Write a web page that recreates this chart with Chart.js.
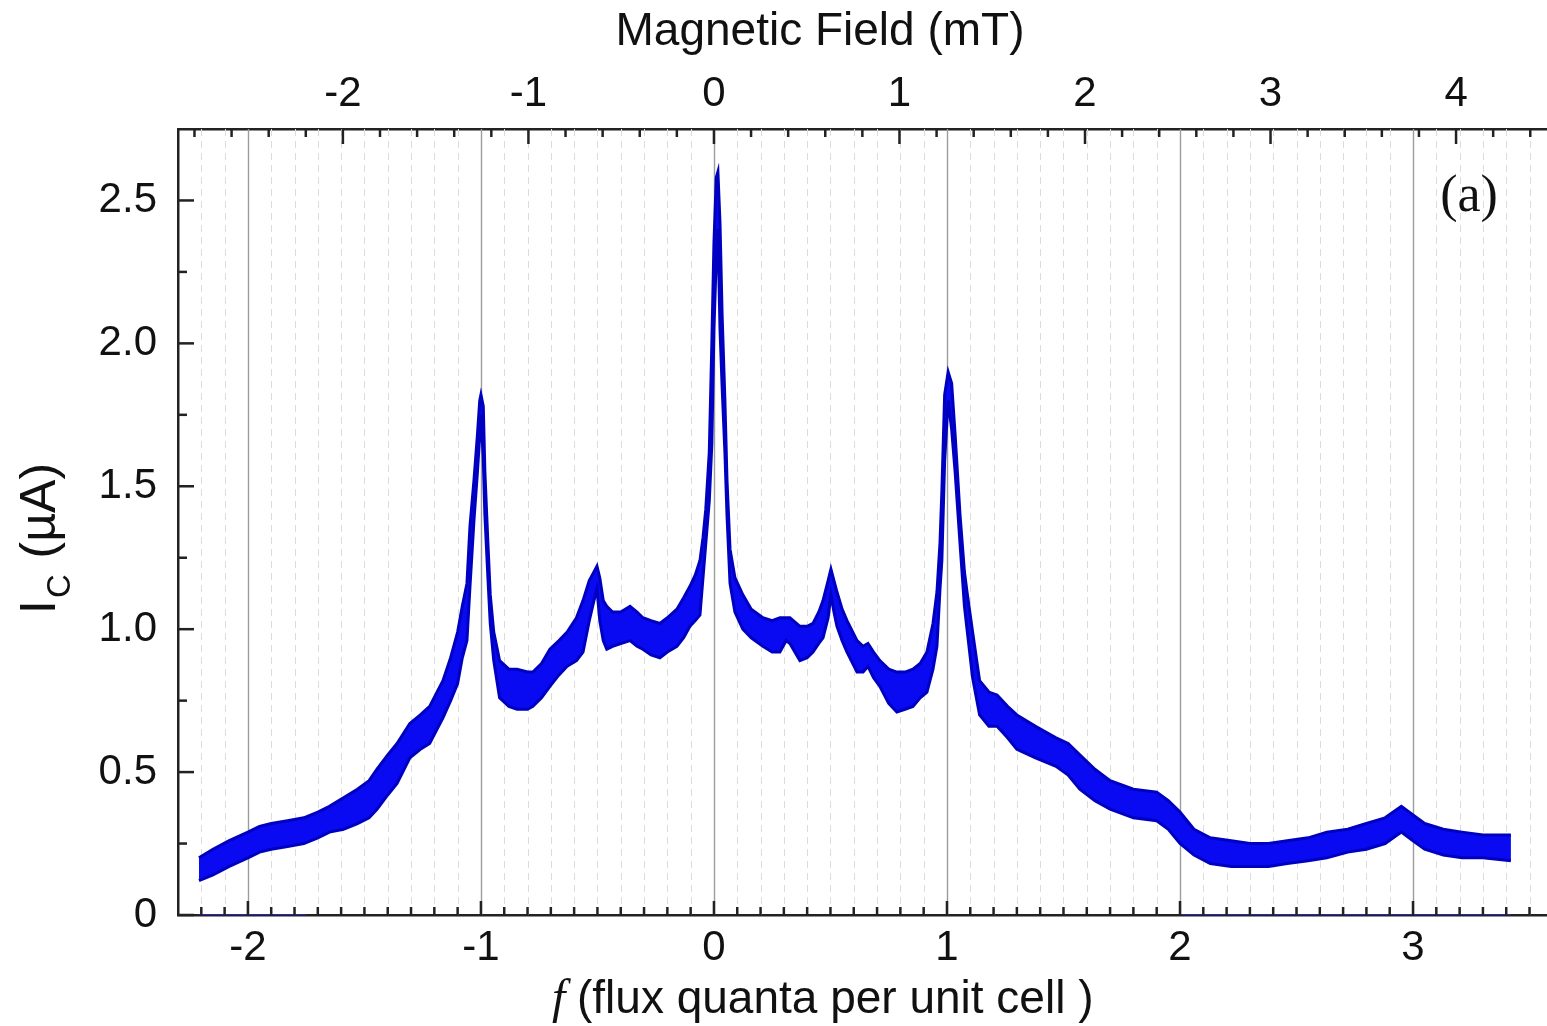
<!DOCTYPE html>
<html>
<head>
<meta charset="utf-8">
<script src="https://cdn.jsdelivr.net/npm/chart.js@4.4.1/dist/chart.umd.min.js"></script>
<style>
html, body { margin: 0; padding: 0; background: #fff; }
#wrap { position: relative; width: 1547px; height: 1026px; }
</style>
</head>
<body>
<div id="wrap"><canvas id="myChart"></canvas></div>
<script>
// flux quanta per unit cell, and the upper / lower edge of the measured Ic band (uA)
var fluxF = [-2.21, -2.15, -2.08, -2.00, -1.95, -1.90, -1.83, -1.76, -1.70, -1.65, -1.59, -1.53, -1.48, -1.446, -1.40,
    -1.36, -1.305, -1.26, -1.22, -1.163, -1.13, -1.10, -1.08, -1.06, -1.047, -1.03, -1.015, -1.005, -1.00, -0.99,
    -0.983, -0.97, -0.96, -0.945, -0.92, -0.88, -0.845, -0.80, -0.777, -0.74, -0.704, -0.665, -0.63, -0.59, -0.562,
    -0.535, -0.515, -0.502, -0.49, -0.475, -0.46, -0.435, -0.40, -0.36, -0.33, -0.305, -0.27, -0.232, -0.20, -0.159,
    -0.13, -0.103, -0.08, -0.06, -0.047, -0.035, -0.02, -0.009, 0.00, 0.01, 0.017, 0.026, 0.035, 0.047, 0.056,
    0.069, 0.09, 0.124, 0.16, 0.21, 0.25, 0.283, 0.31, 0.326, 0.369, 0.40, 0.425, 0.45, 0.468, 0.49,
    0.502, 0.515, 0.528, 0.55, 0.571, 0.614, 0.64, 0.661, 0.685, 0.712, 0.75, 0.785, 0.82, 0.854, 0.885,
    0.914, 0.94, 0.957, 0.97, 0.978, 0.99, 1.005, 1.02, 1.035, 1.056, 1.075, 1.086, 1.11, 1.14, 1.18,
    1.215, 1.26, 1.30, 1.38, 1.468, 1.52, 1.57, 1.635, 1.70, 1.80, 1.90, 1.95, 2.00, 2.06, 2.13,
    2.22, 2.30, 2.38, 2.46, 2.55, 2.63, 2.72, 2.80, 2.88, 2.95, 3.00, 3.05, 3.13, 3.21, 3.30, 3.42];
var icUpper = [0.20, 0.23, 0.26, 0.29, 0.31, 0.32, 0.33, 0.34, 0.36, 0.38, 0.41, 0.44, 0.47, 0.51, 0.56,
    0.60, 0.67, 0.70, 0.73, 0.82, 0.90, 0.99, 1.08, 1.16, 1.36, 1.52, 1.68, 1.80, 1.82, 1.78,
    1.55, 1.30, 1.12, 0.99, 0.89, 0.86, 0.86, 0.85, 0.85, 0.88, 0.93, 0.96, 0.99, 1.04, 1.10,
    1.17, 1.20, 1.22, 1.18, 1.10, 1.08, 1.06, 1.06, 1.08, 1.06, 1.04, 1.03, 1.02, 1.04, 1.07,
    1.11, 1.15, 1.19, 1.24, 1.32, 1.42, 1.62, 2.00, 2.35, 2.58, 2.60, 2.42, 2.10, 1.80, 1.52,
    1.28, 1.18, 1.12, 1.07, 1.04, 1.03, 1.04, 1.04, 1.04, 1.01, 1.01, 1.02, 1.06, 1.10, 1.17,
    1.21, 1.17, 1.13, 1.07, 1.03, 0.96, 0.94, 0.95, 0.92, 0.89, 0.86, 0.85, 0.85, 0.86, 0.88,
    0.92, 1.02, 1.13, 1.30, 1.48, 1.82, 1.90, 1.86, 1.68, 1.40, 1.20, 1.13, 0.99, 0.82, 0.78,
    0.77, 0.73, 0.70, 0.66, 0.62, 0.60, 0.56, 0.51, 0.47, 0.44, 0.43, 0.40, 0.36, 0.30, 0.27,
    0.26, 0.25, 0.25, 0.26, 0.27, 0.29, 0.30, 0.32, 0.34, 0.38, 0.35, 0.32, 0.30, 0.29, 0.28, 0.28];
var icLower = [0.12, 0.14, 0.17, 0.20, 0.22, 0.23, 0.24, 0.25, 0.27, 0.29, 0.30, 0.32, 0.34, 0.37, 0.42,
    0.46, 0.55, 0.58, 0.60, 0.69, 0.75, 0.81, 0.90, 0.96, 1.15, 1.38, 1.55, 1.68, 1.75, 1.60,
    1.40, 1.18, 1.02, 0.89, 0.76, 0.73, 0.72, 0.72, 0.73, 0.76, 0.80, 0.84, 0.87, 0.89, 0.92,
    1.03, 1.10, 1.14, 1.03, 0.96, 0.93, 0.94, 0.95, 0.96, 0.94, 0.93, 0.91, 0.90, 0.92, 0.94,
    0.97, 1.01, 1.03, 1.05, 1.18, 1.30, 1.45, 1.65, 2.05, 2.30, 2.40, 2.05, 1.85, 1.62, 1.40,
    1.16, 1.06, 1.00, 0.97, 0.94, 0.92, 0.92, 0.96, 0.95, 0.89, 0.90, 0.92, 0.95, 0.97, 1.04,
    1.12, 1.06, 1.01, 0.96, 0.92, 0.85, 0.85, 0.87, 0.83, 0.80, 0.74, 0.71, 0.72, 0.73, 0.76,
    0.78, 0.86, 0.94, 1.14, 1.24, 1.59, 1.80, 1.70, 1.55, 1.30, 1.08, 1.00, 0.83, 0.70, 0.66,
    0.66, 0.62, 0.58, 0.55, 0.52, 0.49, 0.44, 0.40, 0.37, 0.34, 0.33, 0.30, 0.25, 0.21, 0.18,
    0.17, 0.17, 0.17, 0.18, 0.19, 0.20, 0.22, 0.23, 0.25, 0.29, 0.26, 0.23, 0.21, 0.20, 0.20, 0.19];
// stretches where points sit on Ic = 0
var zeroRunStart = [-2.21, 2.00];
var zeroRunEnd = [-1.75, 3.42];

var fluxTicks = [-2, -1, 0, 1, 2, 3];
var fieldTicks = [-2, -1, 0, 1, 2, 3, 4];
var icTicks = [0, 0.5, 1.0, 1.5, 2.0, 2.5];

var fluxMin = -2.3, fluxMax = 3.575;
var fieldPerFlux = 1.256;   // mT per flux quantum per cell
var icMax = 2.75;

var sans = '"Liberation Sans", Arial, sans-serif';
var serif = '"Liberation Serif", "Times New Roman", serif';
var blue = '#0a0af2';

function pts(xs, ys) {
    var out = [];
    for (var i = 0; i < xs.length; i++) out.push({x: xs[i], y: ys[i]});
    return out;
}

var datasets = [
    {data: pts(fluxF, icUpper), borderColor: '#0000c0', borderWidth: 3, pointRadius: 0, fill: false},
    {data: pts(fluxF, icLower), borderColor: '#0000c0', borderWidth: 3, pointRadius: 0, fill: '-1', backgroundColor: blue}
];
for (var z = 0; z < zeroRunStart.length; z++) {
    datasets.push({data: [{x: zeroRunStart[z], y: 0}, {x: zeroRunEnd[z], y: 0}],
        borderColor: 'rgba(40,40,230,0.8)', borderWidth: 2, pointRadius: 0, fill: false});
}

function steps(from, to, step) {
    var a = [];
    var n = Math.round((to - from) / step);
    for (var i = 0; i <= n; i++) a.push(Math.round((from + i * step) * 1000) / 1000);
    return a;
}

var frameBits = {
    id: 'frameBits',
    beforeDatasetsDraw: function(chart) {
        var ctx = chart.ctx, a = chart.chartArea, sx = chart.scales.x;
        ctx.save();
        ctx.beginPath();
        ctx.rect(a.left, a.top, a.right - a.left, a.bottom - a.top);
        ctx.clip();
        steps(-2.2, 3.5, 0.1).forEach(function(v) {
            var major = Math.abs(v - Math.round(v)) < 1e-6;
            var px = Math.round(sx.getPixelForValue(v)) + 0.5;
            ctx.beginPath();
            ctx.strokeStyle = major ? '#9c9c9c' : '#dcdcdc';
            ctx.lineWidth = major ? 1.4 : 1;
            ctx.setLineDash(major ? [] : [7, 5]);
            ctx.moveTo(px, a.top);
            ctx.lineTo(px, a.bottom);
            ctx.stroke();
        });
        ctx.restore();
    },
    afterDraw: function(chart) {
        var ctx = chart.ctx, a = chart.chartArea;
        var sx = chart.scales.x, sx2 = chart.scales.x2, sy = chart.scales.y;
        ctx.save();
        ctx.strokeStyle = '#222';
        ctx.lineWidth = 2.5;
        // inward ticks, bottom
        steps(-2.2, 3.5, 0.1).forEach(function(v) {
            var major = Math.abs(v - Math.round(v)) < 1e-6;
            var px = sx.getPixelForValue(v);
            ctx.beginPath();
            ctx.moveTo(px, a.bottom);
            ctx.lineTo(px, a.bottom - (major ? 14 : 8));
            ctx.stroke();
        });
        // top (mT)
        steps(-2.8, 4.4, 0.2).forEach(function(v) {
            var major = Math.abs(v - Math.round(v)) < 1e-6;
            var px = sx2.getPixelForValue(v);
            ctx.beginPath();
            ctx.moveTo(px, a.top);
            ctx.lineTo(px, a.top + (major ? 15 : 8));
            ctx.stroke();
        });
        // left
        steps(0, 2.5, 0.25).forEach(function(v) {
            var major = Math.abs(v * 2 - Math.round(v * 2)) < 1e-6;
            var py = sy.getPixelForValue(v);
            ctx.beginPath();
            ctx.moveTo(a.left, py);
            ctx.lineTo(a.left + (major ? 16 : 9), py);
            ctx.stroke();
        });

        ctx.fillStyle = '#111';
        ctx.textBaseline = 'middle';
        // top title
        ctx.textAlign = 'center';
        ctx.font = '46px ' + sans;
        ctx.fillText('Magnetic Field (mT)', 820, 32);
        // bottom title with italic f
        ctx.textAlign = 'left';
        ctx.font = 'italic 48px ' + serif;
        ctx.fillText('f', 552, 1000);
        ctx.font = '46px ' + sans;
        ctx.fillText('(flux quanta per unit cell )', 577, 1000);
        // panel tag
        ctx.textAlign = 'center';
        ctx.font = '52px ' + serif;
        ctx.fillText('(a)', 1469, 197);
        // y title, rotated, I with subscript C
        ctx.translate(55, 614);
        ctx.rotate(-Math.PI / 2);
        ctx.textAlign = 'left';
        ctx.textBaseline = 'alphabetic';
        ctx.font = '50px ' + sans;
        ctx.fillText('I', 0, 0);
        var w = ctx.measureText('I').width;
        ctx.font = '33px ' + sans;
        ctx.fillText('C', w + 2, 15);
        var w2 = ctx.measureText('C').width;
        ctx.font = '50px ' + sans;
        ctx.fillText(' (\u00b5A)', w + w2 + 4, 0);
        ctx.restore();
    }
};

var ctx = document.getElementById('myChart').getContext('2d');
var myChart = new Chart(ctx, {
    type: 'line',
    data: {datasets: datasets},
    plugins: [frameBits],
    options: {
        animation: false,
        responsive: true,
        maintainAspectRatio: false,
        layout: {padding: 0},
        plugins: {legend: {display: false}, tooltip: {enabled: false}},
        scales: {
            x: {
                type: 'linear', position: 'bottom', min: fluxMin, max: fluxMax,
                grid: {display: false, drawTicks: false},
                border: {display: true, color: '#222', width: 2.5},
                afterBuildTicks: function(s) { s.ticks = fluxTicks.map(function(v) { return {value: v}; }); },
                afterFit: function(s) { s.height = 111; },
                ticks: {padding: 8, color: '#111', font: {family: sans, size: 42}, maxRotation: 0,
                    callback: function(v) { return String(v); }}
            },
            x2: {
                type: 'linear', position: 'top',
                min: fluxMin * fieldPerFlux, max: fluxMax * fieldPerFlux,
                grid: {display: false, drawTicks: false},
                border: {display: true, color: '#222', width: 2.5},
                afterBuildTicks: function(s) { s.ticks = fieldTicks.map(function(v) { return {value: v}; }); },
                afterFit: function(s) { s.height = 129; },
                ticks: {padding: 9, color: '#111', font: {family: sans, size: 42}, maxRotation: 0,
                    callback: function(v) { return String(v); }}
            },
            y: {
                type: 'linear', position: 'left', min: 0, max: icMax,
                grid: {display: false, drawTicks: false},
                border: {display: true, color: '#222', width: 2.5},
                afterBuildTicks: function(s) { s.ticks = icTicks.map(function(v) { return {value: v}; }); },
                afterFit: function(s) { s.width = 178; },
                ticks: {padding: 21, color: '#111', font: {family: sans, size: 42},
                    callback: function(v) { return v === 0 ? '0' : v.toFixed(1); }}
            }
        }
    }
});
</script>
</body>
</html>
